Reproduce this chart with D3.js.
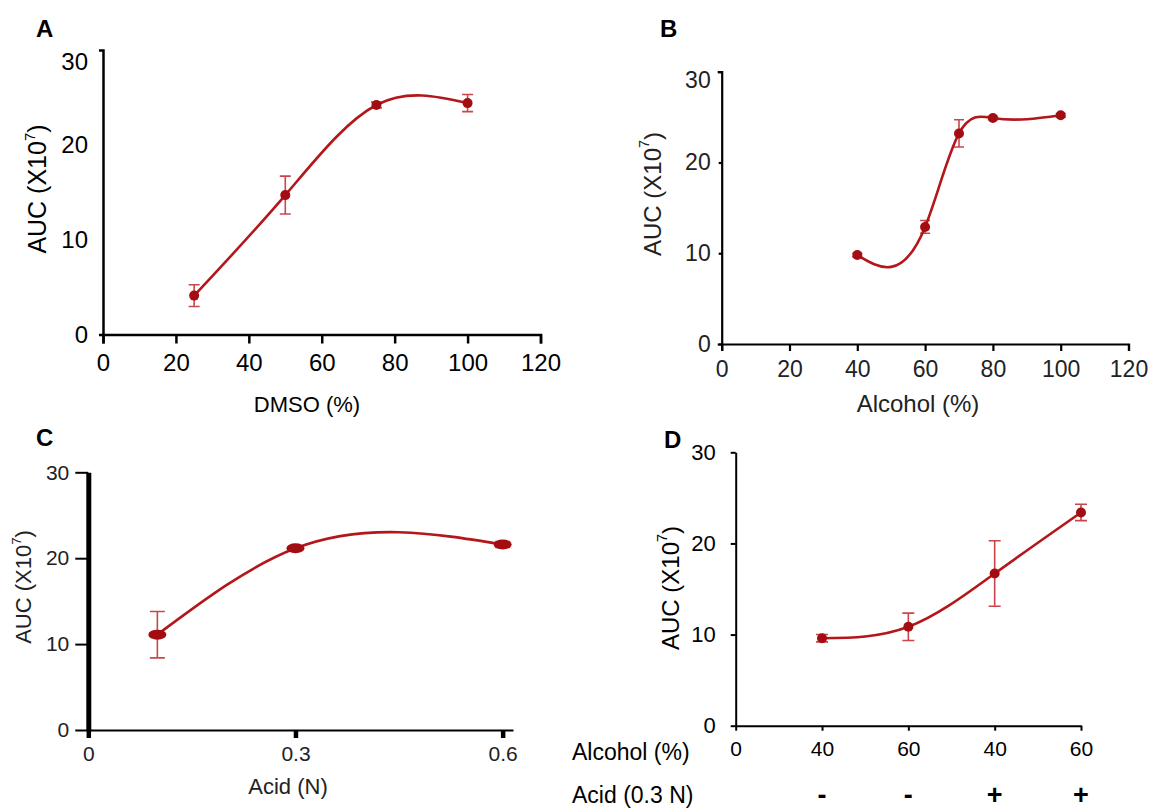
<!DOCTYPE html>
<html>
<head>
<meta charset="utf-8">
<script src="https://cdn.jsdelivr.net/npm/d3@7"></script>
<style>
  body { margin: 0; background: #fff; }
  svg { display: block; }
  text { font-family: "Liberation Sans", Arial, Helvetica, sans-serif; }
</style>
</head>
<body>
<svg id="fig" width="1149" height="811"></svg>
<script>
// ---- Panel A: DMSO concentration ----
const dmsoPct = [25, 50, 75, 100];
const dmsoAuc = [4.1, 14.7, 24.2, 24.4];
const dmsoErr = [1.15, 2.0, 0.3, 0.9];
const dmsoTicks = [0, 20, 40, 60, 80, 100, 120];

// ---- Panel B: alcohol concentration ----
const alcoholPct = [40, 60, 70, 80, 100];
const alcoholAuc = [9.8, 12.9, 23.2, 24.9, 25.2];
const alcoholErr = [0.2, 0.7, 1.5, 0.2, 0.2];
const alcoholTicks = [0, 20, 40, 60, 80, 100, 120];

// ---- Panel C: acid normality ----
const acidN = [0.1, 0.3, 0.6];
const acidAuc = [11.1, 21.15, 21.6];
const acidErr = [2.7, 0.2, 0.35];
const acidTicks = [0, 0.3, 0.6];
const acidTickLabels = ["0", "0.3", "0.6"];

// ---- Panel D: alcohol with / without acid ----
const comboPos = [1, 2, 3, 4];
const comboAlcohol = ["40", "60", "40", "60"];
const comboAcid = ["-", "-", "+", "+"];
const comboAuc = [9.6, 10.85, 16.7, 23.4];
const comboErr = [0.4, 1.5, 3.6, 0.9];

const aucTicks = [0, 10, 20, 30];

const svg = d3.select("#fig");
const LINE = "#b3161b", DOT = "#a30d12", ERR = "#c9474b";

// Natural cubic spline with y as a function of x, emitted as Bezier segments
function curveNaturalX(context) {
  let xs, ys;
  return {
    areaStart() {}, areaEnd() {},
    lineStart() { xs = []; ys = []; },
    point(x, y) { xs.push(+x); ys.push(+y); },
    lineEnd() {
      const n = xs.length;
      if (!n) return;
      context.moveTo(xs[0], ys[0]);
      if (n === 1) return;
      if (n === 2) { context.lineTo(xs[1], ys[1]); return; }
      const h = [], d = [];
      for (let i = 0; i < n - 1; i++) { h[i] = xs[i + 1] - xs[i]; d[i] = (ys[i + 1] - ys[i]) / h[i]; }
      const m = n - 2, a = [], b = [], c = [], r = [];
      for (let k = 0; k < m; k++) {
        const i = k + 1;
        a[k] = h[i - 1]; b[k] = 2 * (h[i - 1] + h[i]); c[k] = h[i]; r[k] = 6 * (d[i] - d[i - 1]);
      }
      for (let k = 1; k < m; k++) { const w = a[k] / b[k - 1]; b[k] -= w * c[k - 1]; r[k] -= w * r[k - 1]; }
      const M = new Array(n).fill(0);
      for (let k = m - 1; k >= 0; k--) M[k + 1] = (r[k] - c[k] * M[k + 2]) / b[k];
      for (let i = 0; i < n - 1; i++) {
        const s0 = d[i] - h[i] * (2 * M[i] + M[i + 1]) / 6;
        const s1 = d[i] + h[i] * (M[i] + 2 * M[i + 1]) / 6;
        context.bezierCurveTo(xs[i] + h[i] / 3, ys[i] + s0 * h[i] / 3,
                              xs[i + 1] - h[i] / 3, ys[i + 1] - s1 * h[i] / 3,
                              xs[i + 1], ys[i + 1]);
      }
    }
  };
}

function drawSeries(g, xs, ys, es, x, y, opt) {
  const pts = xs.map((v, i) => ({ v, val: ys[i], err: es[i] }));
  g.append("g").attr("stroke", ERR).attr("stroke-width", 1.6).attr("fill", "none")
    .selectAll("path").data(pts).join("path")
    .attr("d", p => {
      const px = x(p.v), hi = y(p.val + p.err), lo = y(p.val - p.err), c = opt.cap;
      return `M${px},${hi}V${lo}M${px - c},${hi}H${px + c}M${px - c},${lo}H${px + c}`;
    });
  g.append("path")
    .datum(pts)
    .attr("fill", "none").attr("stroke", LINE).attr("stroke-width", 2.6)
    .attr("d", d3.line().x(p => x(p.v)).y(p => y(p.val)).curve(curveNaturalX));
  g.append("g").selectAll("ellipse").data(pts).join("ellipse")
    .attr("cx", p => x(p.v)).attr("cy", p => y(p.val))
    .attr("rx", opt.rx).attr("ry", opt.ry).attr("fill", DOT);
}

function styleAxis(sel, width, size, color) {
  sel.select(".domain").attr("stroke", "#000").attr("stroke-width", width);
  sel.selectAll(".tick line").attr("stroke", "#000").attr("stroke-width", width);
  sel.selectAll(".tick text").attr("font-size", size).attr("fill", color).attr("font-family", null);
  sel.attr("font-family", null);
}

function yTitle(g, cx, cy, size, color) {
  const t = g.append("text").attr("transform", `translate(${cx},${cy}) rotate(-90)`)
    .attr("text-anchor", "middle").attr("dominant-baseline", "central")
    .attr("font-size", size).attr("fill", color);
  t.append("tspan").text("AUC (X10");
  t.append("tspan").text("7").attr("font-size", size * 0.6).attr("dy", -size * 0.34);
  t.append("tspan").text(")").attr("dy", size * 0.34);
}

function letter(g, s, x, y) {
  g.append("text").attr("x", x).attr("y", y).attr("font-size", 24).attr("font-weight", "bold").text(s);
}

// ================= Panel A =================
{
  const g = svg.append("g");
  const x = d3.scaleLinear([0, 120], [103, 540.5]);
  const y = d3.scaleLinear([0, 30], [334.5, 50]);
  const ax = g.append("g").attr("transform", `translate(0,${y(0)})`)
    .call(d3.axisBottom(x).tickValues(dmsoTicks).tickSize(9).tickSizeOuter(9).tickPadding(10));
  styleAxis(ax, 2.5, 24, "#000");
  const ay = g.append("g").attr("transform", `translate(${x(0)},0)`)
    .call(d3.axisLeft(y).tickValues(aucTicks).tickSizeInner(0).tickSizeOuter(4).tickPadding(15));
  styleAxis(ay, 2.5, 24, "#000");
  ay.selectAll(".tick").filter(d => d === 30).select("text").attr("transform", "translate(0,12)");
  drawSeries(g, dmsoPct, dmsoAuc, dmsoErr, x, y, { rx: 5, ry: 5, cap: 5.5 });
  g.append("text").attr("x", 307).attr("y", 404).attr("text-anchor", "middle")
    .attr("dominant-baseline", "central").attr("font-size", 22).text("DMSO (%)");
  yTitle(g, 37, 189, 25, "#000");
  letter(g, "A", 36, 37);
}

// ================= Panel B =================
{
  const g = svg.append("g");
  const x = d3.scaleLinear([0, 120], [721.7, 1128.5]);
  const y = d3.scaleLinear([0, 30], [344, 71.7]);
  const ax = g.append("g").attr("transform", `translate(0,${y(0)})`)
    .call(d3.axisBottom(x).tickValues(alcoholTicks).tickSize(7).tickSizeOuter(7).tickPadding(10));
  styleAxis(ax, 2.2, 23, "#222");
  const ay = g.append("g").attr("transform", `translate(${x(0)},0)`)
    .call(d3.axisLeft(y).tickValues(aucTicks).tickSizeInner(3).tickSizeOuter(4).tickPadding(8));
  styleAxis(ay, 2.2, 23, "#222");
  ay.selectAll(".tick").filter(d => d === 30).select("text").attr("transform", "translate(0,8)");
  drawSeries(g, alcoholPct, alcoholAuc, alcoholErr, x, y, { rx: 5, ry: 5, cap: 5 });
  g.append("text").attr("x", 918).attr("y", 403).attr("text-anchor", "middle")
    .attr("dominant-baseline", "central").attr("font-size", 24).attr("fill", "#222").text("Alcohol (%)");
  yTitle(g, 652, 194, 24, "#222");
  letter(g, "B", 660, 37);
}

// ================= Panel C =================
{
  const g = svg.append("g");
  const x = d3.scaleLinear([0, 0.615], [88.3, 513]);
  const y = d3.scaleLinear([0, 30], [730, 472.3]);
  const ax = g.append("g").attr("transform", `translate(0,${y(0)})`)
    .call(d3.axisBottom(x).tickValues(acidTicks).tickFormat((d, i) => acidTickLabels[i])
      .tickSize(8).tickSizeOuter(0).tickPadding(8));
  styleAxis(ax, 2, 21, "#222");
  ax.selectAll(".tick line").attr("stroke-width", 4.5);
  const ay = g.append("g").attr("transform", `translate(${x(0)},0)`)
    .call(d3.axisLeft(y).tickValues(aucTicks).tickSizeInner(13).tickSizeOuter(0).tickPadding(6));
  styleAxis(ay, 5, 21, "#222");
  ay.selectAll(".tick line").attr("stroke-width", 2);
  drawSeries(g, acidN, acidAuc, acidErr, x, y, { rx: 9, ry: 5, cap: 7.5 });
  g.append("text").attr("x", 288).attr("y", 786).attr("text-anchor", "middle")
    .attr("dominant-baseline", "central").attr("font-size", 22).attr("fill", "#222").text("Acid (N)");
  yTitle(g, 23, 587, 22, "#222");
  letter(g, "C", 36, 446);
}

// ================= Panel D =================
{
  const g = svg.append("g");
  const x = d3.scaleLinear([0, 4], [735.7, 1081]);
  const y = d3.scaleLinear([0, 30], [725.7, 452.3]);
  const xLabels = ["0", ...comboAlcohol];
  const ax = g.append("g").attr("transform", `translate(0,${y(0)})`)
    .call(d3.axisBottom(x).tickValues([0, ...comboPos]).tickFormat((d, i) => xLabels[i])
      .tickSize(5).tickSizeOuter(0).tickPadding(10));
  styleAxis(ax, 2, 21, "#000");
  const ay = g.append("g").attr("transform", `translate(${x(0)},0)`)
    .call(d3.axisLeft(y).tickValues(aucTicks).tickSizeInner(5).tickSizeOuter(0).tickPadding(15));
  styleAxis(ay, 2, 22, "#000");
  drawSeries(g, comboPos, comboAuc, comboErr, x, y, { rx: 5, ry: 5, cap: 6 });
  g.append("text").attr("x", 572).attr("y", 752).attr("dominant-baseline", "central")
    .attr("font-size", 23).text("Alcohol (%)");
  g.append("text").attr("x", 572).attr("y", 795).attr("dominant-baseline", "central")
    .attr("font-size", 23).text("Acid (0.3 N)");
  g.append("g").selectAll("text").data(comboAcid).join("text")
    .attr("x", (d, i) => x(comboPos[i])).attr("y", 795)
    .attr("text-anchor", "middle").attr("dominant-baseline", "central")
    .attr("font-size", 27).attr("font-weight", "bold").text(d => d);
  yTitle(g, 670, 588, 24, "#000");
  letter(g, "D", 664, 448);
}
</script>
</body>
</html>
